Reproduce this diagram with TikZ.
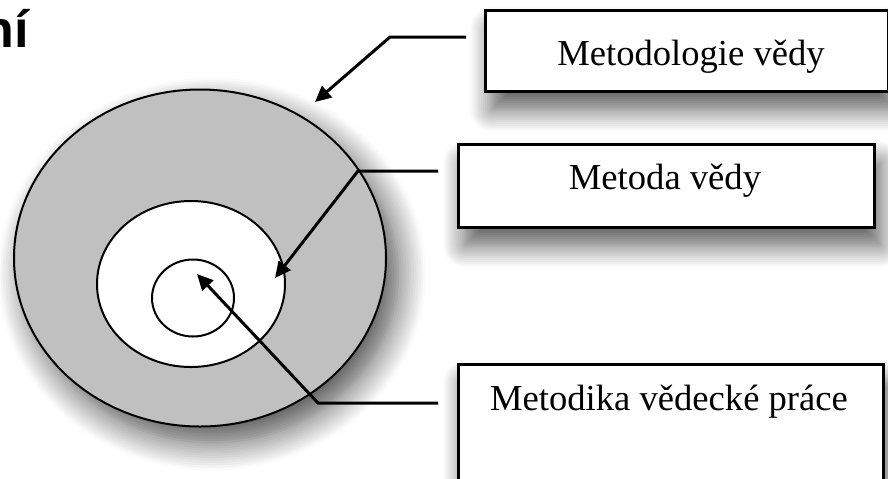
\documentclass[tikz,border=0pt]{standalone}
\usepackage{fontspec}
\setmainfont{Liberation Serif}
\newfontfamily\headfont{Liberation Sans}
\usetikzlibrary{shapes.geometric,arrows.meta,shadows.blur}
\definecolor{ringgray}{RGB}{192,192,192}
\begin{document}
\begin{tikzpicture}[x=0.5pt,y=-0.5pt,
  ring/.style={ellipse,draw=black,line width=1pt,inner sep=0pt},
  labelbox/.style={rectangle,draw=black,line width=1.6pt,fill=white,inner sep=0pt,anchor=north west,
    blur shadow={shadow xshift=3pt,shadow yshift=-9pt,shadow blur radius=11pt,shadow opacity=65,shadow blur steps=12}},
  labeltext/.style={anchor=base,inner sep=0pt,font=\fontsize{18.3}{20}\selectfont},
  pointer/.style={draw=black,line width=1.5pt,line join=miter,-{Triangle[length=8pt,width=7.5pt]}}]
\useasboundingbox (0,0) rectangle (888,478);
\clip (0,0) rectangle (888,478);

% heading fragment
\node[anchor=base east,inner sep=0pt,font=\headfont\bfseries\fontsize{26}{28}\selectfont] (head) at (29,47) {ní};

% rings
\node[ring,fill=ringgray,minimum width=186pt,minimum height=168.5pt,
  blur shadow={shadow xshift=6pt,shadow yshift=-8pt,shadow blur radius=14pt,shadow opacity=70,shadow blur steps=12}] (outer) at (200,258) {};
\node[ring,fill=white,minimum width=94pt,minimum height=83pt] (mid) at (191,284) {};
\node[ring,minimum width=41pt,minimum height=38.5pt] (inner) at (193,298) {};

% boxes
\node[labelbox,minimum width=201.5pt,minimum height=40.5pt] (b1) at (484,9) {};
\node[labelbox,minimum width=208pt,minimum height=41.5pt] (b2) at (457,143) {};
\node[labelbox,minimum width=212.5pt,minimum height=68.5pt] (b3) at (457,363) {};

\node[labeltext] (t1) at (691,65) {Metodologie vědy};
\node[labeltext] (t2) at (665,189) {Metoda vědy};
\node[labeltext] (t3) at (669,410) {Metodika vědecké práce};

% connector points
\coordinate (s1) at (466,37);
\coordinate (k1) at (390,37);
\coordinate (e1) at (315,102);
\coordinate (s2) at (438,171);
\coordinate (k2) at (358,171);
\coordinate (e2) at (275,278);
\coordinate (s3) at (438,403);
\coordinate (k3) at (318,403);
\coordinate (e3) at (197,274);

\draw[pointer] (s1) -- (k1) -- (e1);
\draw[pointer] (s2) -- (k2) -- (e2);
\draw[pointer] (s3) -- (k3) -- (e3);
\end{tikzpicture}
\end{document}
